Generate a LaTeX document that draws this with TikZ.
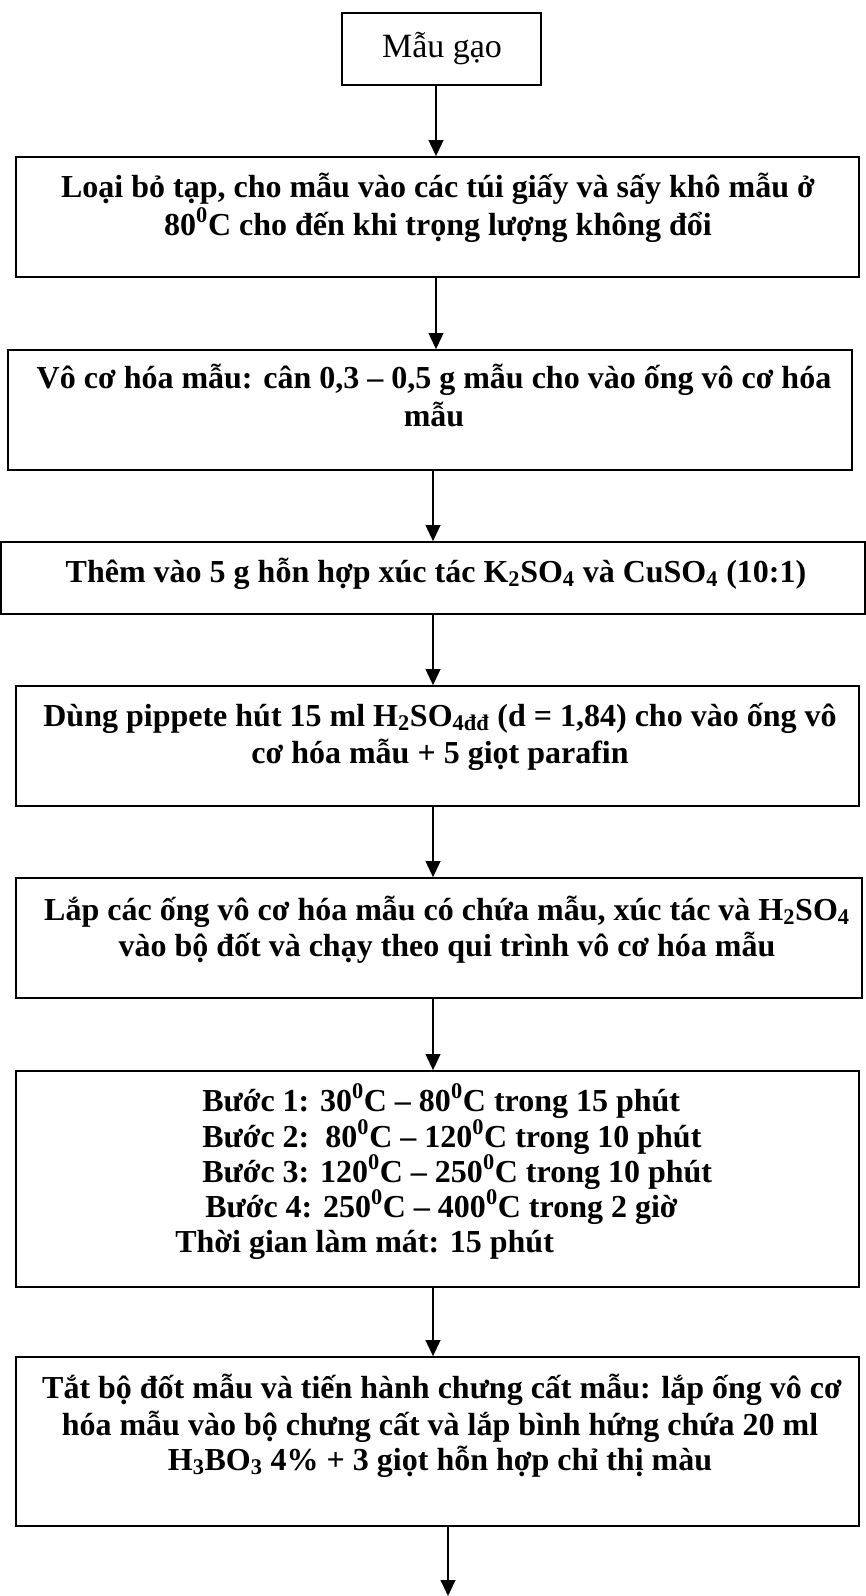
\documentclass[tikz,border=0pt]{standalone}
\usepackage{fontspec}
\setmainfont{Liberation Serif}
\usetikzlibrary{arrows.meta,fit}
\begin{document}
\begin{tikzpicture}[x=0.75pt,y=-0.75pt,
  box/.style={draw, line width=1.3pt, inner sep=0pt},
  ln/.style={anchor=base, inner sep=0pt, font=\bfseries\fontsize{24}{28}\selectfont},
  lnw/.style={ln, anchor=base west},
  arr/.style={line width=1.5pt, -{Triangle[length=12pt,width=11pt]}}]
\useasboundingbox (0,0) rectangle (866,1596);

% boxes
\node[box, fit={(342,13) (541,85)}] (b1) {};
\node[box, fit={(15.7,157) (859,277)}] (b2) {};
\node[box, fit={(8,350) (852,470)}] (b3) {};
\node[box, fit={(0.9,542) (865.1,614)}] (b4) {};
\node[box, fit={(15.7,686) (859,806)}] (b5) {};
\node[box, fit={(15.7,878) (862,998)}] (b6) {};
\node[box, fit={(15.7,1071) (859,1287)}] (b7) {};
\node[box, fit={(15.7,1357) (859,1526)}] (b8) {};

% texts
\node[anchor=base, inner sep=0pt, font=\fontsize{25.5}{30}\selectfont] (t1) at (442,57) {Mẫu gạo};

\node[ln] (t2a) at (438,197) {Loại bỏ tạp, cho mẫu vào các túi giấy và sấy khô mẫu ở};
\node[ln] (t2b) at (438,235) {80\textsuperscript{0}C cho đến khi trọng lượng không đổi};

\node[ln] (t3a) at (434,388) {Vô cơ hóa mẫu: cân 0,3 – 0,5 g mẫu cho vào ống vô cơ hóa};
\node[ln] (t3b) at (434,426) {mẫu};

\node[ln] (t4a) at (436,582) {Thêm vào 5 g hỗn hợp xúc tác K\textsubscript{2}SO\textsubscript{4} và CuSO\textsubscript{4} (10:1)};

\node[ln] (t5a) at (440,726) {Dùng pippete hút 15 ml H\textsubscript{2}SO\textsubscript{4đđ} (d = 1,84) cho vào ống vô};
\node[ln] (t5b) at (440,763) {cơ hóa mẫu + 5 giọt parafin};

\node[ln] (t6a) at (447,920) {Lắp các ống vô cơ hóa mẫu có chứa mẫu, xúc tác và H\textsubscript{2}SO\textsubscript{4}};
\node[ln] (t6b) at (447,956) {vào bộ đốt và chạy theo qui trình vô cơ hóa mẫu};

\node[lnw] (t7a) at (202,1111) {Bước 1: 30\textsuperscript{0}C – 80\textsuperscript{0}C trong 15 phút};
\node[lnw] (t7b) at (202,1147) {Bước 2:\ \ 80\textsuperscript{0}C – 120\textsuperscript{0}C trong 10 phút};
\node[lnw] (t7c) at (202,1182) {Bước 3: 120\textsuperscript{0}C – 250\textsuperscript{0}C trong 10 phút};
\node[lnw] (t7d) at (205,1217) {Bước 4: 250\textsuperscript{0}C – 400\textsuperscript{0}C trong 2 giờ};
\node[lnw] (t7e) at (175,1252) {Thời gian làm mát: 15 phút};

\node[ln] (t8a) at (442,1398) {Tắt bộ đốt mẫu và tiến hành chưng cất mẫu: lắp ống vô cơ};
\node[ln] (t8b) at (440,1435) {hóa mẫu vào bộ chưng cất và lắp bình hứng chứa 20 ml};
\node[ln] (t8c) at (440,1470) {H\textsubscript{3}BO\textsubscript{3} 4\% + 3 giọt hỗn hợp chỉ thị màu};

% arrow columns
\coordinate (xa) at (436,0);
\coordinate (xb) at (433,0);
\coordinate (xc) at (448,0);
\coordinate (tail) at (448,1596);

\draw[arr] (b1.south -| xa) -- (b2.north -| xa);
\draw[arr] (b2.south -| xa) -- (b3.north -| xa);
\draw[arr] (b3.south -| xb) -- (b4.north -| xb);
\draw[arr] (b4.south -| xb) -- (b5.north -| xb);
\draw[arr] (b5.south -| xb) -- (b6.north -| xb);
\draw[arr] (b6.south -| xb) -- (b7.north -| xb);
\draw[arr] (b7.south -| xb) -- (b8.north -| xb);
\draw[arr] (b8.south -| xc) -- (tail);
\end{tikzpicture}
\end{document}
